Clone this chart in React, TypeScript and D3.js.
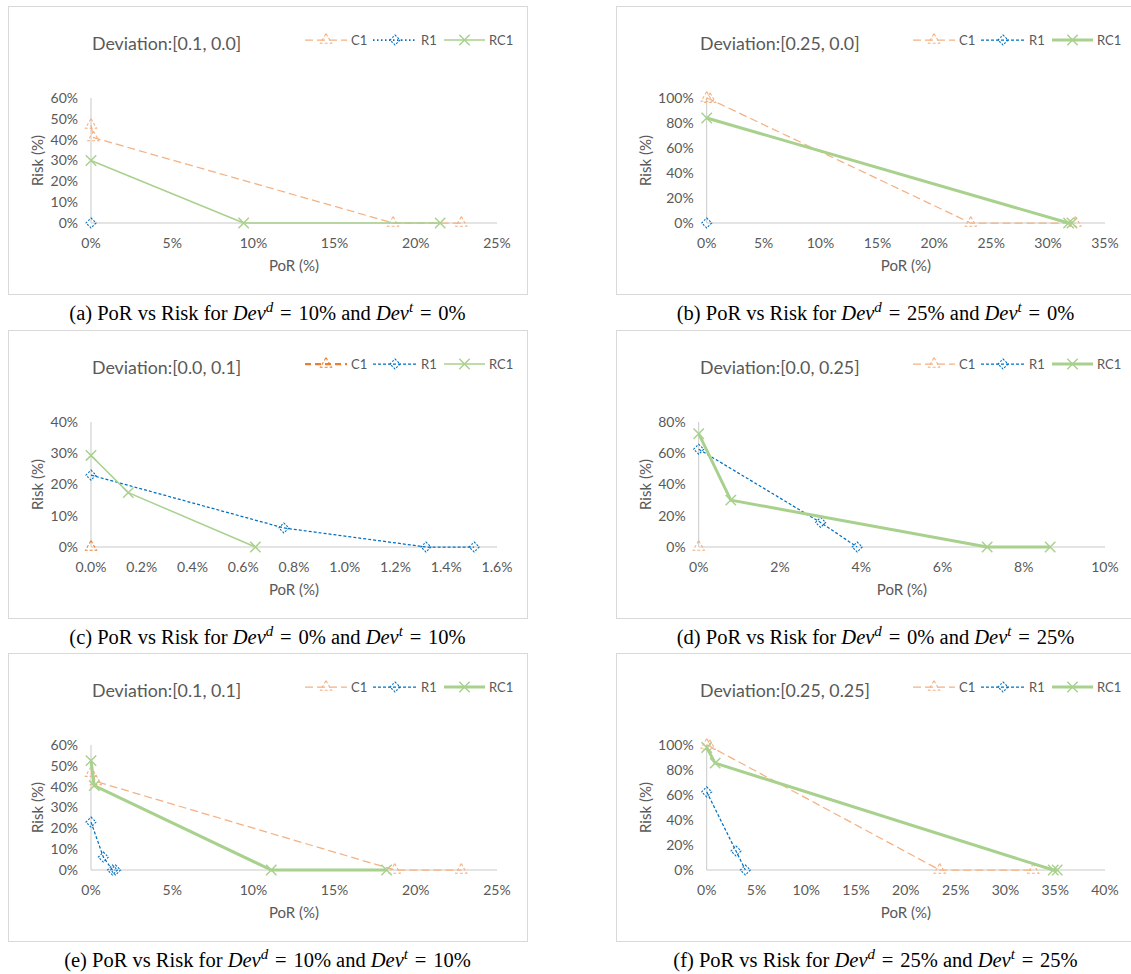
import React from "react";
import * as d3 from "d3";

type Pt = [number, number];

// values are [PoR %, Risk %]
// (a) Deviation [0.1, 0.0]
const aC1: Pt[] = [[0, 47], [0.15, 41], [18.6, 0], [22.8, 0]];
const aR1: Pt[] = [[0, 0]];
const aRC1: Pt[] = [[0, 30], [9.4, 0], [21.5, 0]];
// (b) Deviation [0.25, 0.0]
const bC1: Pt[] = [[0, 100], [0.3, 99], [23.2, 0], [32.4, 0]];
const bR1: Pt[] = [[0, 0]];
const bRC1: Pt[] = [[0, 84], [31.8, 0], [32.1, 0]];
// (c) Deviation [0.0, 0.1]
const cC1: Pt[] = [[0, 0]];
const cR1: Pt[] = [[0, 23], [0.76, 6.1], [1.32, 0], [1.51, 0]];
const cRC1: Pt[] = [[0, 29.3], [0.147, 17.4], [0.648, 0]];
// (d) Deviation [0.0, 0.25]
const dC1: Pt[] = [[0, 0]];
const dR1: Pt[] = [[0, 62.6], [3.0, 15.7], [3.9, 0]];
const dRC1: Pt[] = [[0, 72.5], [0.79, 30], [7.1, 0], [8.65, 0]];
// (e) Deviation [0.1, 0.1]
const eC1: Pt[] = [[0, 46.5], [0.3, 42.5], [18.7, 0], [22.8, 0]];
const eR1: Pt[] = [[0, 23], [0.76, 6.2], [1.32, 0], [1.51, 0]];
const eRC1: Pt[] = [[0, 52.5], [0.2, 40.5], [11.1, 0], [18.2, 0]];
// (f) Deviation [0.25, 0.25]
const fC1: Pt[] = [[0, 100], [0.3, 99], [23.4, 0], [32.8, 0]];
const fR1: Pt[] = [[0, 62.5], [2.94, 15.2], [3.88, 0]];
const fRC1: Pt[] = [[0, 98], [0.85, 85.5], [34.8, 0], [35.2, 0]];

const seriesNames = ["C1", "R1", "RC1"];
const titles = [
  "Deviation:[0.1, 0.0]",
  "Deviation:[0.25, 0.0]",
  "Deviation:[0.0, 0.1]",
  "Deviation:[0.0, 0.25]",
  "Deviation:[0.1, 0.1]",
  "Deviation:[0.25, 0.25]",
];
const letters = ["a", "b", "c", "d", "e", "f"];
const devD = ["10%", "25%", "0%", "0%", "10%", "25%"];
const devT = ["0%", "0%", "10%", "25%", "10%", "25%"];

const xTicksA = [0, 5, 10, 15, 20, 25];
const xTicksB = [0, 5, 10, 15, 20, 25, 30, 35];
const xTicksC = [0, 0.2, 0.4, 0.6, 0.8, 1.0, 1.2, 1.4, 1.6];
const xTicksD = [0, 2, 4, 6, 8, 10];
const xTicksF = [0, 5, 10, 15, 20, 25, 30, 35, 40];
const yTicks60 = [0, 10, 20, 30, 40, 50, 60];
const yTicks100 = [0, 20, 40, 60, 80, 100];
const yTicks40 = [0, 10, 20, 30, 40];
const yTicks80 = [0, 20, 40, 60, 80];

interface Style {
  color: string;
  width: number;
  dash?: string;
  mDash?: string;
}

const ORANGE = "#F4B183";
const BLUE = "#0070C0";
const GREEN = "#A9D18E";
const GREY = "#595959";

const thick = {
  c1: { color: ORANGE, width: 1.25, dash: "8,4", mDash: "3,2" },
  r1: { color: BLUE, width: 1.25, dash: "3,2", mDash: "2,1.5" },
  rc1: { color: GREEN, width: 3 },
};

const panels = [
  { i: 0, fx: 8, fy: 6, left: 83, xTicks: xTicksA, yTicks: yTicks60, dec: 0, data: [aC1, aR1, aRC1],
    st: { c1: thick.c1, r1: { color: BLUE, width: 1.75, dash: "1.5,2.5", mDash: "2,1.5" }, rc1: { color: GREEN, width: 1.5 } } },
  { i: 1, fx: 616, fy: 6, left: 90.7, xTicks: xTicksB, yTicks: yTicks100, dec: 0, data: [bC1, bR1, bRC1], st: thick },
  { i: 2, fx: 8, fy: 330, left: 83, xTicks: xTicksC, yTicks: yTicks40, dec: 1, data: [cC1, cR1, cRC1],
    st: { c1: { color: "#ED7D31", width: 2.25, dash: "6,4", mDash: "3,2" }, r1: thick.r1, rc1: { color: GREEN, width: 1.5 } } },
  { i: 3, fx: 616, fy: 330, left: 82.7, xTicks: xTicksD, yTicks: yTicks80, dec: 0, data: [dC1, dR1, dRC1], st: thick },
  { i: 4, fx: 8, fy: 653, left: 83, xTicks: xTicksA, yTicks: yTicks60, dec: 0, data: [eC1, eR1, eRC1], st: thick },
  { i: 5, fx: 616, fy: 653, left: 90.7, xTicks: xTicksF, yTicks: yTicks100, dec: 0, data: [fC1, fR1, fRC1], st: thick },
];

const FW = 519;
const FH = 288;
const RIGHT = 489;
const TOP = 92;
const BOTTOM = 217;

const symTypes = [d3.symbolTriangle2, d3.symbolDiamond2, d3.symbolTimes];
const symSizes = [88, 64, 72];

function Marker({ k, st, x, y }: { k: number; st: Style; x: number; y: number }) {
  const d = d3.symbol(symTypes[k], symSizes[k])() || "";
  return (
    <path
      d={d}
      transform={`translate(${x},${y})`}
      fill="none"
      stroke={st.color}
      strokeWidth={k === 2 ? 1.5 : 1.1}
      strokeDasharray={st.mDash}
    />
  );
}

function Panel({ p }: { p: (typeof panels)[number] }) {
  const xMax = p.xTicks[p.xTicks.length - 1];
  const yMax = p.yTicks[p.yTicks.length - 1];
  const x = d3.scaleLinear().domain([0, xMax]).range([p.left, RIGHT]);
  const y = d3.scaleLinear().domain([0, yMax]).range([BOTTOM, TOP]);
  const line = d3
    .line<Pt>()
    .x((d) => x(d[0]))
    .y((d) => y(d[1]));
  const styles: Style[] = [p.st.c1, p.st.r1, p.st.rc1];
  const legendX = [297, 365, 436];
  const legendW = [42, 44, 41];
  const i = p.i;
  const eq = " \u200A=\u200A ";

  return (
    <g transform={`translate(${p.fx},${p.fy})`}>
      <rect x={0.5} y={0.5} width={FW} height={FH} fill="#fff" stroke="#d9d9d9" />
      <text x={84} y={43.5} fontFamily="Lato" fontSize={17.8} fill={GREY}>
        {titles[i]}
      </text>
      {/* legend */}
      {seriesNames.map((n, k) => (
        <g key={n}>
          <line
            x1={legendX[k]}
            x2={legendX[k] + legendW[k]}
            y1={34}
            y2={34}
            stroke={styles[k].color}
            strokeWidth={styles[k].width}
            strokeDasharray={styles[k].dash}
          />
          <Marker k={k} st={styles[k]} x={legendX[k] + legendW[k] / 2} y={34} />
          <text x={legendX[k] + legendW[k] + 4} y={38.5} fontFamily="Lato" fontSize={13} fill={GREY}>
            {n}
          </text>
        </g>
      ))}
      {/* axes */}
      <line x1={x(0)} x2={x(xMax)} y1={y(0)} y2={y(0)} stroke="#c9c9c9" />
      <line x1={x(0)} x2={x(0)} y1={y(0)} y2={y(yMax)} stroke="#c9c9c9" />
      {p.yTicks.map((t) => (
        <text key={t} x={p.left - 13} y={y(t)} dy="0.35em" textAnchor="end" fontFamily="Lato" fontSize={14} fill={GREY}>
          {t}%
        </text>
      ))}
      {p.xTicks.map((t) => (
        <text key={t} x={x(t)} y={y(0) + 25} textAnchor="middle" fontFamily="Lato" fontSize={14} fill={GREY}>
          {t.toFixed(p.dec)}%
        </text>
      ))}
      <text
        transform={`translate(30,${(TOP + BOTTOM) / 2}) rotate(-90)`}
        dy="0.35em"
        textAnchor="middle"
        fontFamily="Lato"
        fontSize={15}
        fill={GREY}
      >
        Risk (%)
      </text>
      <text x={(p.left + RIGHT) / 2} y={264.5} textAnchor="middle" fontFamily="Lato" fontSize={15} fill={GREY}>
        PoR (%)
      </text>
      {/* series */}
      {p.data.map((ser, k) => (
        <g key={k}>
          <path
            d={line(ser) || ""}
            fill="none"
            stroke={styles[k].color}
            strokeWidth={styles[k].width}
            strokeDasharray={styles[k].dash}
            strokeLinejoin="round"
          />
          {ser.map((d, j) => (
            <Marker key={j} k={k} st={styles[k]} x={x(d[0])} y={y(d[1])} />
          ))}
        </g>
      ))}
      {/* caption */}
      <text x={FW / 2} y={314} textAnchor="middle" fontFamily="Liberation Serif" fontSize={20.5} fill="#000">
        ({letters[i]}) PoR vs Risk for{" "}
        <tspan fontStyle="italic">Dev</tspan>
        <tspan fontStyle="italic" fontSize={15} dy={-8}>d</tspan>
        <tspan dy={8}>{eq + devD[i] + " and "}</tspan>
        <tspan fontStyle="italic">Dev</tspan>
        <tspan fontStyle="italic" fontSize={15} dy={-8}>t</tspan>
        <tspan dy={8}>{eq + devT[i]}</tspan>
      </text>
    </g>
  );
}

export default function App() {
  return (
    <svg
      width={1131}
      height={974}
      style={{ position: "absolute", left: 0, top: 0, display: "block", background: "#fff" }}
    >
      <rect width={1131} height={974} fill="#fff" />
      {panels.map((p) => (
        <Panel key={p.i} p={p} />
      ))}
    </svg>
  );
}
